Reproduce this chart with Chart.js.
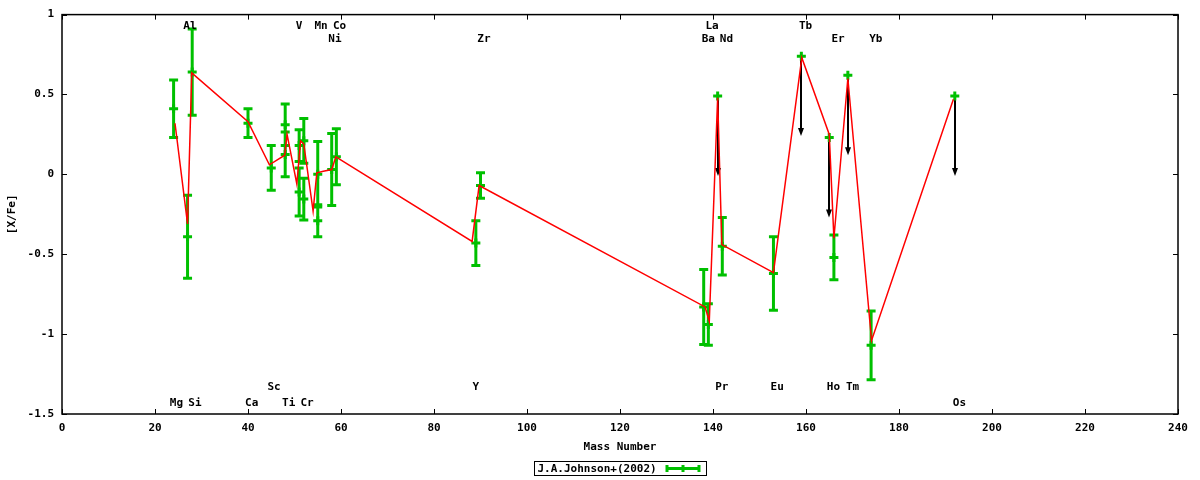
<!DOCTYPE html>
<html>
<head>
<meta charset="utf-8">
<script src="https://cdn.jsdelivr.net/npm/chart.js@4.4.0/dist/chart.umd.min.js"></script>
<style>
  html, body { margin: 0; padding: 0; background: #fff; }
  #wrap { width: 1200px; height: 480px; }
</style>
</head>
<body>
<div id="wrap"><canvas id="myChart"></canvas></div>
<script>
// measured abundances with error bars (mass number, [X/Fe], error)
const massNumbers = [24, 27, 28, 40, 45, 48, 48, 51, 51, 52, 52, 55, 55, 58, 59, 89, 90, 138, 139, 142, 153, 166, 174];
const abundances  = [0.41, -0.39, 0.64, 0.32, 0.04, 0.31, 0.125, 0.18, -0.11, 0.21, -0.155, 0.0, -0.29, 0.03, 0.11, -0.43, -0.07, -0.83, -0.94, -0.45, -0.62, -0.52, -1.07];
const errors      = [0.18, 0.26, 0.27, 0.09, 0.14, 0.13, 0.14, 0.10, 0.15, 0.14, 0.13, 0.205, 0.10, 0.225, 0.175, 0.14, 0.08, 0.235, 0.13, 0.18, 0.23, 0.14, 0.215];

// upper limits (drawn as + with a down arrow)
const limitMasses = [141, 159, 165, 169, 192];
const limitValues = [0.49, 0.74, 0.23, 0.62, 0.49];
const arrowLength = 0.5;

// model curve (red line)
const modelMasses = [24.3, 27.0, 27.9, 40.0, 44.6, 47.9, 48.4, 50.5, 51.3, 52.0, 54.0, 54.8, 56.2, 58.0, 58.9, 88.2, 89.7, 138.3, 139.2, 141.0, 141.9, 153.0, 159.1, 165.0, 166.0, 169.0, 174.1, 191.7];
const modelValues = [0.32, -0.31, 0.635, 0.33, 0.06, 0.12, 0.25, -0.06, 0.21, 0.19, -0.23, 0.01, 0.02, 0.03, 0.11, -0.42, -0.07, -0.83, -0.92, 0.48, -0.44, -0.615, 0.73, 0.25, -0.40, 0.60, -1.04, 0.47];

// element labels: name, mass position, row (0,1 top; 2,3 bottom)
const elementNames = ['Al', 'V', 'Mn', 'Co', 'La', 'Tb',
                      'Ni', 'Zr', 'Ba', 'Nd', 'Er', 'Yb',
                      'Sc', 'Y', 'Pr', 'Eu', 'Ho', 'Tm',
                      'Mg', 'Si', 'Ca', 'Ti', 'Cr', 'Os'];
const elementMass  = [27.5, 51.0, 55.7, 59.7, 139.8, 159.9,
                      58.7, 90.75, 139.0, 142.9, 166.9, 175.0,
                      45.6, 89.0, 141.9, 153.8, 165.9, 170.0,
                      24.6, 28.6, 40.8, 48.75, 52.7, 193.0];
const elementRow   = [0, 0, 0, 0, 0, 0,
                      1, 1, 1, 1, 1, 1,
                      2, 2, 2, 2, 2, 2,
                      3, 3, 3, 3, 3, 3];
const rowLevels = [0.925, 0.848, -1.329, -1.433];

const legendLabel = 'J.A.Johnson+(2002)';
const green = '#00c000';

// build datasets from the arrays
const modelData = modelMasses.map((m, i) => ({ x: m, y: modelValues[i] }));
const stemData = [];
const capData = [];
const centerData = [];
massNumbers.forEach((m, i) => {
  const lo = abundances[i] - errors[i];
  const hi = abundances[i] + errors[i];
  stemData.push({ x: m, y: lo }, { x: m, y: hi }, { x: m, y: null });
  capData.push({ x: m, y: lo }, { x: m, y: hi });
  centerData.push({ x: m, y: abundances[i] });
});
const limitData = limitMasses.map((m, i) => ({ x: m, y: limitValues[i] }));

const decorations = {
  id: 'decorations',
  beforeDatasetsDraw(chart) {
    const { ctx, scales: { x, y } } = chart;
    ctx.save();
    ctx.strokeStyle = '#000';
    ctx.fillStyle = '#000';
    ctx.lineWidth = 2;
    limitMasses.forEach((m, i) => {
      const px = Math.round(x.getPixelForValue(m));
      const y0 = y.getPixelForValue(limitValues[i]);
      const y1 = y.getPixelForValue(limitValues[i] - arrowLength);
      ctx.beginPath();
      ctx.moveTo(px, y0);
      ctx.lineTo(px, y1 - 5);
      ctx.stroke();
      ctx.beginPath();
      ctx.moveTo(px - 3, y1 - 8);
      ctx.lineTo(px + 3, y1 - 8);
      ctx.lineTo(px, y1);
      ctx.closePath();
      ctx.fill();
    });
    ctx.restore();
  },
  afterDraw(chart) {
    const { ctx, chartArea: a, scales: { x, y } } = chart;
    ctx.save();
    // frame
    ctx.strokeStyle = '#000';
    ctx.lineWidth = 1.5;
    ctx.strokeRect(a.left, a.top, a.right - a.left, a.bottom - a.top);
    // inward ticks, mirrored
    ctx.lineWidth = 1;
    ctx.beginPath();
    x.ticks.forEach(t => {
      const px = Math.round(x.getPixelForValue(t.value)) + 0.5;
      ctx.moveTo(px, a.bottom); ctx.lineTo(px, a.bottom - 5);
      ctx.moveTo(px, a.top); ctx.lineTo(px, a.top + 5);
    });
    y.ticks.forEach(t => {
      const py = Math.round(y.getPixelForValue(t.value)) + 0.5;
      ctx.moveTo(a.left, py); ctx.lineTo(a.left + 5, py);
      ctx.moveTo(a.right, py); ctx.lineTo(a.right - 5, py);
    });
    ctx.stroke();

    // element labels
    ctx.fillStyle = '#000';
    ctx.font = "bold 11px 'DejaVu Sans Mono', monospace";
    ctx.textAlign = 'center';
    ctx.textBaseline = 'middle';
    elementNames.forEach((name, i) => {
      ctx.fillText(name, x.getPixelForValue(elementMass[i]), y.getPixelForValue(rowLevels[elementRow[i]]));
    });

    // legend box
    const bx = 534.5, by = 461.5, bw = 172, bh = 14;
    ctx.lineWidth = 1;
    ctx.strokeRect(bx, by, bw, bh);
    ctx.textAlign = 'left';
    ctx.fillText(legendLabel, bx + 3, by + bh / 2 + 0.5);
    const sy = by + bh / 2;
    ctx.strokeStyle = green;
    ctx.lineWidth = 3;
    ctx.beginPath();
    ctx.moveTo(666, sy); ctx.lineTo(700, sy);
    [667, 683, 699].forEach(sx => { ctx.moveTo(sx, sy - 3.5); ctx.lineTo(sx, sy + 3.5); });
    ctx.stroke();
    ctx.restore();
  }
};

Chart.defaults.font.family = "'DejaVu Sans Mono', monospace";
Chart.defaults.font.size = 11;
Chart.defaults.font.weight = 'bold';
Chart.defaults.color = '#000';

const ctx = document.getElementById('myChart').getContext('2d');
const myChart = new Chart(ctx, {
  type: 'scatter',
  data: {
    datasets: [
      {
        label: 'model',
        data: modelData,
        showLine: true,
        borderColor: '#ff0000',
        borderWidth: 1.5,
        pointRadius: 0,
        tension: 0,
        order: 0
      },
      {
        label: 'centers',
        data: centerData,
        pointStyle: 'cross',
        pointRadius: 4.5,
        borderWidth: 3,
        borderColor: green,
        order: 1
      },
      {
        label: 'limits',
        data: limitData,
        pointStyle: 'cross',
        pointRadius: 4.5,
        borderWidth: 3,
        borderColor: green,
        order: 1
      },
      {
        label: 'caps',
        data: capData,
        pointStyle: 'line',
        pointRadius: 4.5,
        borderWidth: 3,
        borderColor: green,
        order: 2
      },
      {
        label: legendLabel,
        data: stemData,
        showLine: true,
        spanGaps: false,
        borderColor: green,
        borderWidth: 3,
        pointRadius: 0,
        order: 3
      }
    ]
  },
  plugins: [decorations],
  options: {
    responsive: true,
    maintainAspectRatio: false,
    animation: false,
    events: [],
    layout: { padding: { top: 14, right: 22, left: 0, bottom: 0 } },
    plugins: {
      legend: { display: false },
      tooltip: { enabled: false }
    },
    scales: {
      x: {
        type: 'linear',
        min: 0,
        max: 240,
        ticks: { stepSize: 20, padding: 8 },
        grid: { display: false, drawTicks: false },
        border: { display: false },
        title: { display: true, text: 'Mass Number', padding: { top: 0, bottom: 26 } },
        afterFit: s => { s.height = 66; }
      },
      y: {
        min: -1.5,
        max: 1,
        ticks: { stepSize: 0.5, padding: 8, callback: v => String(v) },
        grid: { display: false, drawTicks: false },
        border: { display: false },
        title: { display: true, text: '[X/Fe]', padding: { top: 6, bottom: 0 } },
        afterFit: s => { s.width = 62; }
      }
    }
  }
});
</script>
</body>
</html>
